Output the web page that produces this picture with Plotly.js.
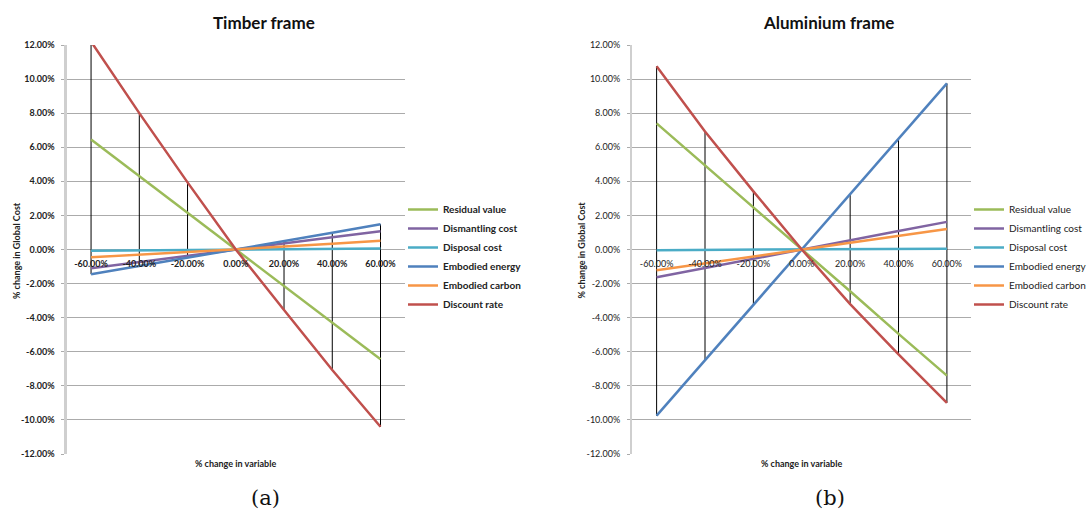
<!DOCTYPE html>
<html>
<head>
<meta charset="utf-8">
<script src="https://cdn.plot.ly/plotly-3.0.1.min.js"></script>
<style>html,body{margin:0;padding:0;background:#fff;}#chart{width:1092px;height:513px;}</style>
</head>
<body>
<div id="chart"></div>
<script>
// ---- data (values in %) ----
const categories = ["-60.00%", "-40.00%", "-20.00%", "0.00%", "20.00%", "40.00%", "60.00%"];
const seriesNames = ["Residual value", "Dismantling cost", "Disposal cost", "Embodied energy", "Embodied carbon", "Discount rate"];
const seriesColors = ["#9BBB59", "#8064A2", "#4BACC6", "#4F81BD", "#F79646", "#C0504D"];

// Timber frame
const timberResidual    = [6.45, 4.30, 2.15, 0, -2.15, -4.28, -6.44];
const timberDismantling = [-1.10, -0.73, -0.37, 0, 0.36, 0.72, 1.07];
const timberDisposal    = [-0.07, -0.05, -0.02, 0, 0.02, 0.04, 0.06];
const timberEnergy      = [-1.45, -0.97, -0.48, 0, 0.49, 0.98, 1.48];
const timberCarbon      = [-0.46, -0.31, -0.15, 0, 0.17, 0.34, 0.51];
const timberDiscount    = [12.2, 8.00, 3.94, 0, -3.55, -7.07, -10.40];

// Aluminium frame
const aluResidual    = [7.40, 4.95, 2.45, 0, -2.45, -4.95, -7.40];
const aluDismantling = [-1.63, -1.08, -0.54, 0, 0.54, 1.08, 1.62];
const aluDisposal    = [-0.04, -0.03, -0.01, 0, 0.01, 0.03, 0.05];
const aluEnergy      = [-9.75, -6.50, -3.25, 0, 3.25, 6.50, 9.75];
const aluCarbon      = [-1.22, -0.81, -0.41, 0, 0.40, 0.80, 1.20];
const aluDiscount    = [10.75, 6.92, 3.41, 0, -3.20, -6.15, -9.00];

const yTickVals   = [-12, -10, -8, -6, -4, -2, 0, 2, 4, 6, 8, 10, 12];
const yTickLabels = ["-12.00%", "-10.00%", "-8.00%", "-6.00%", "-4.00%", "-2.00%", "0.00%", "2.00%", "4.00%", "6.00%", "8.00%", "10.00%", "12.00%"];

const timberSeries = [timberResidual, timberDismantling, timberDisposal, timberEnergy, timberCarbon, timberDiscount];
const aluSeries    = [aluResidual, aluDismantling, aluDisposal, aluEnergy, aluCarbon, aluDiscount];

// ---- build traces ----
const FONT = "Lato, 'Open Sans', sans-serif";
const SERIF = "'DejaVu Serif', 'Liberation Serif', serif";

function highLow(series, xa, ya) {
  const xs = [], ys = [];
  categories.forEach((c, i) => {
    const vals = series.map(s => s[i]);
    xs.push(c, c, null);
    ys.push(Math.max(...vals), Math.min(...vals), null);
  });
  return {x: xs, y: ys, xaxis: xa, yaxis: ya, mode: 'lines', type: 'scatter',
          line: {color: '#000', width: 1}, showlegend: false, hoverinfo: 'skip'};
}

const traces = [highLow(timberSeries, 'x', 'y'), highLow(aluSeries, 'x2', 'y2')];
timberSeries.forEach((s, k) => traces.push({
  x: categories, y: s, name: seriesNames[k], type: 'scatter', mode: 'lines',
  xaxis: 'x', yaxis: 'y', legend: 'legend',
  line: {color: seriesColors[k], width: 2.5}
}));
aluSeries.forEach((s, k) => traces.push({
  x: categories, y: s, name: seriesNames[k], type: 'scatter', mode: 'lines',
  xaxis: 'x2', yaxis: 'y2', legend: 'legend2',
  line: {color: seriesColors[k], width: 2.5}
}));

const W = 1092, H = 513;
const yTop = 45, yBot = 454;
const yDom = [1 - yBot / H, 1 - yTop / H];
const zeroPos = 1 - ((yTop + yBot) / 2) / H;

function xAxis(dom, bold) {
  return {
    domain: dom, type: 'category', range: [-0.5, 6.5], anchor: 'free', position: zeroPos,
    showgrid: false, zeroline: false, showline: false, ticks: '',
    tickfont: {family: FONT, size: 9, color: '#222', weight: bold ? 'bold' : 'normal'},
    ticklabelstandoff: 7, fixedrange: true
  };
}
function yAxis(anchor, bold) {
  return {
    anchor: anchor, domain: yDom, range: [-12, 12], tickvals: yTickVals, ticktext: yTickLabels,
    showgrid: true, gridcolor: '#ababab', gridwidth: 1, zeroline: false,
    showline: true, linecolor: '#cfcfcf', linewidth: 2.5, ticks: 'outside', ticklen: 3, tickcolor: '#ababab',
    tickfont: {family: FONT, size: 9, color: '#222', weight: bold ? 'bold' : 'normal'},
    ticklabelstandoff: 5, fixedrange: true
  };
}

function ann(text, px, py, font, extra) {
  return Object.assign({text: text, x: px / W, y: 1 - py / H, xref: 'paper', yref: 'paper',
    showarrow: false, xanchor: 'center', yanchor: 'middle', font: font}, extra || {});
}

const layout = {
  width: W, height: H, margin: {l: 0, r: 0, t: 0, b: 0},
  paper_bgcolor: '#fff', plot_bgcolor: '#fff',
  font: {family: FONT},
  xaxis: xAxis([67 / W, 405 / W], true),
  yaxis: yAxis('x', true),
  xaxis2: xAxis([633 / W, 972 / W], false),
  yaxis2: yAxis('x2', false),
  legend: {x: 403 / W, y: 1 - 195 / H, xanchor: 'left', yanchor: 'top',
           font: {family: FONT, size: 10, color: '#222', weight: 'bold'},
           bgcolor: 'rgba(0,0,0,0)', itemwidth: 30, tracegroupgap: 0},
  legend2: {x: 970 / W, y: 1 - 195 / H, xanchor: 'left', yanchor: 'top',
           font: {family: FONT, size: 10, color: '#222'},
           bgcolor: 'rgba(0,0,0,0)', itemwidth: 30, tracegroupgap: 0},
  annotations: [
    ann('Timber frame', 264, 22, {family: FONT, size: 17, color: '#111', weight: 'bold'}),
    ann('Aluminium frame', 829, 22, {family: FONT, size: 17, color: '#111', weight: 'bold'}),
    ann('% change in variable', 236, 463, {family: FONT, size: 9, color: '#222', weight: 'bold'}),
    ann('% change in variable', 802, 463, {family: FONT, size: 9, color: '#222', weight: 'bold'}),
    ann('% change in Global Cost', 16, 250, {family: FONT, size: 9, color: '#222', weight: 'bold'}, {textangle: -90}),
    ann('% change in Global Cost', 582, 250, {family: FONT, size: 9, color: '#222', weight: 'bold'}, {textangle: -90}),
    ann('(a)', 266, 498, {family: SERIF, size: 21, color: '#111'}),
    ann('(b)', 831, 498, {family: SERIF, size: 21, color: '#111'})
  ]
};

Plotly.newPlot('chart', traces, layout, {staticPlot: true, displayModeBar: false});
</script>
</body>
</html>
